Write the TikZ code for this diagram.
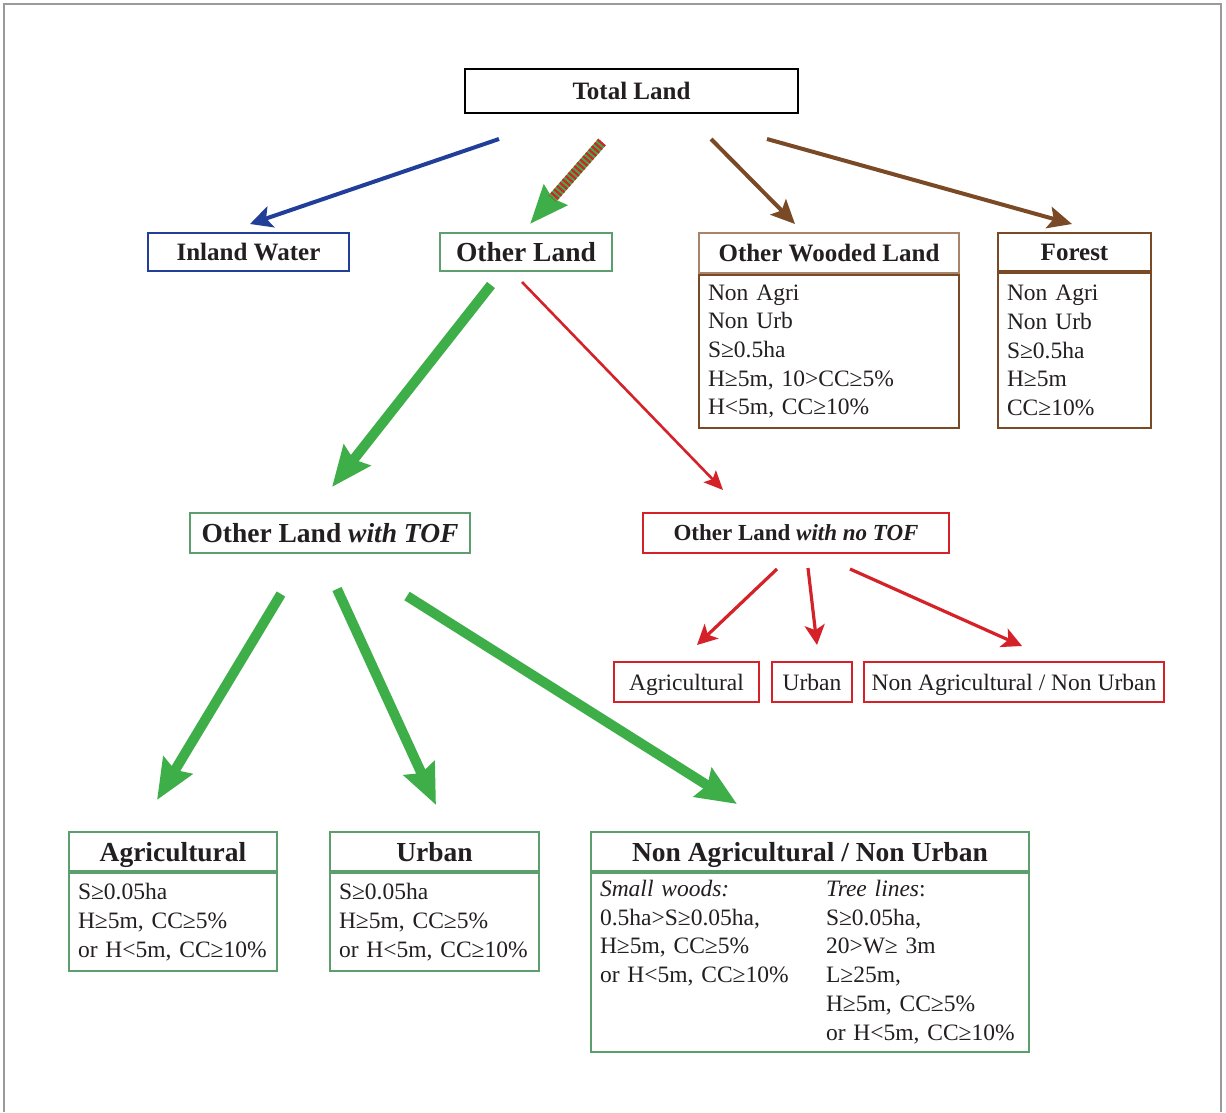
\documentclass[tikz,border=0pt]{standalone}
\usepackage{fontspec}
\setmainfont{Liberation Serif}
\usetikzlibrary{arrows.meta}
\definecolor{tgreen}{HTML}{3EAE49}
\definecolor{bgreen}{HTML}{5C9E6E}
\definecolor{tred}{HTML}{D52229}
\definecolor{tblue}{HTML}{213F99}
\definecolor{tbrown}{HTML}{7A4A27}
\definecolor{lbrown}{HTML}{A8846A}
\definecolor{ink}{HTML}{231F20}
\definecolor{frame}{HTML}{9A9A9A}
\begin{document}
\begin{tikzpicture}[x=1pt,y=-1pt,
  box/.style={draw, line width=2pt, inner sep=0pt, text=ink, align=center, anchor=north west},
  ttl/.style={font=\fontsize{25}{30}\selectfont\bfseries, text height=19pt, text depth=3pt},
  bigttl/.style={font=\fontsize{27.5}{32}\selectfont\bfseries, text height=21.5pt, text depth=2.5pt},
  midttl/.style={font=\fontsize{23}{28}\selectfont\bfseries, text height=18pt, text depth=3pt},
  body/.style={font=\fontsize{23.5}{28.7}\selectfont, align=left, inner xsep=9pt, inner ysep=0pt},
  plain/.style={font=\fontsize{23.5}{28.7}\selectfont, text height=19pt, text depth=2pt},
  bigarrow/.style={tgreen, line width=10pt, -{Stealth[length=40pt,width=33pt,inset=5pt]}},
  thinred/.style={tred, line width=2.6pt, -{Stealth[length=19pt,width=17pt,inset=4pt]}},
  redarrow/.style={tred, line width=3.2pt, -{Stealth[length=20pt,width=20pt,inset=5pt]}},
  bluearrow/.style={tblue, line width=4pt, -{Stealth[length=22pt,width=22pt,inset=5pt]}},
  brownarrow/.style={tbrown, line width=4pt, -{Stealth[length=24pt,width=22pt,inset=5pt]}}
]
\useasboundingbox (0,0) rectangle (1226,1112);
\fill[white] (0,0) rectangle (1226,1112);
\draw[frame, line width=2pt] (4,1112) -- (4,4) -- (1221,4) -- (1221,1112);

% top level
\node[box, ttl, minimum width=333pt, minimum height=44pt] (total) at (464,68) {Total Land};
\node[box, ttl, draw=tblue, minimum width=201pt, minimum height=38pt] (water) at (147,232) {Inland Water};
\node[box, bigttl, draw=bgreen, minimum width=172pt, minimum height=38pt] (other) at (439,232) {Other Land};
\node[box, ttl, draw=lbrown, minimum width=260pt, minimum height=40pt] (owl) at (698,232) {Other Wooded Land};
\node[box, body, draw=tbrown, text width=242pt, minimum height=153pt] (owlb) at (owl.south west)
  {Non Agri\\Non Urb\\S≥0.5ha\\H≥5m, 10>CC≥5\%\\H<5m, CC≥10\%};
\node[box, ttl, draw=tbrown, minimum width=153pt, minimum height=38pt] (forest) at (997,232) {Forest};
\node[box, body, draw=tbrown, text width=135pt, minimum height=155pt] (forestb) at (forest.south west)
  {Non Agri\\Non Urb\\S≥0.5ha\\H≥5m\\CC≥10\%};

% second level
\node[box, bigttl, draw=bgreen, minimum width=280pt, minimum height=40pt] (tof) at (189,512) {Other Land \textit{with TOF}};
\node[box, midttl, draw=tred, minimum width=306pt, minimum height=40pt] (notof) at (642,512) {Other Land \textit{with no TOF}};

% red leaves
\node[box, plain, draw=tred, minimum width=145pt, minimum height=40pt] (ragri) at (613,661) {Agricultural};
\node[box, plain, draw=tred, minimum width=80pt, minimum height=40pt] (rurb) at (771,661) {Urban};
\node[box, plain, draw=tred, minimum width=300pt, minimum height=40pt] (rnon) at (863,661) {Non Agricultural / Non Urban};

% green leaves
\node[box, bigttl, draw=bgreen, minimum width=208pt, minimum height=39pt] (gagri) at (68,831) {Agricultural};
\node[box, body, draw=bgreen, text width=190pt, minimum height=98pt] (gagrib) at (gagri.south west)
  {S≥0.05ha\\H≥5m, CC≥5\%\\or H<5m, CC≥10\%};
\node[box, bigttl, draw=bgreen, minimum width=209pt, minimum height=39pt] (gurb) at (329,831) {Urban};
\node[box, body, draw=bgreen, text width=191pt, minimum height=98pt] (gurbb) at (gurb.south west)
  {S≥0.05ha\\H≥5m, CC≥5\%\\or H<5m, CC≥10\%};
\node[box, bigttl, draw=bgreen, minimum width=438pt, minimum height=39pt] (gnon) at (590,831) {Non Agricultural / Non Urban};
\node[box, body, draw=bgreen, text width=420pt, minimum height=179pt] (gnonb) at (gnon.south west)
  {\begin{tabular}{@{}p{226pt}@{}l@{}}
   \textit{Small woods:} & \textit{Tree lines}:\\
   0.5ha>S≥0.05ha, & S≥0.05ha,\\
   H≥5m, CC≥5\% & 20>W≥ 3m\\
   or H<5m, CC≥10\% & L≥25m,\\
    & H≥5m, CC≥5\%\\
    & or H<5m, CC≥10\%
   \end{tabular}};

% arrow end points
\coordinate (b1) at (499,139); \coordinate (b2) at (250,224);
\coordinate (s1) at (602,142); \coordinate (s2) at (530,224);
\coordinate (w1) at (711,139); \coordinate (w2) at (795,224);
\coordinate (f1) at (767,139); \coordinate (f2) at (1072,224);
\coordinate (g1) at (491,285); \coordinate (g2) at (332,487);
\coordinate (r1) at (522,282); \coordinate (r2) at (723,490);
\coordinate (t1) at (281,594); \coordinate (t2) at (157,800);
\coordinate (u1) at (337,589); \coordinate (u2) at (436,805);
\coordinate (v1) at (407,596); \coordinate (v2) at (737,804);
\coordinate (n1) at (777,569); \coordinate (n2) at (697,645);
\coordinate (m1) at (808,568); \coordinate (m2) at (817,645);
\coordinate (k1) at (850,569); \coordinate (k2) at (1022,646);

\draw[bluearrow] (b1) -- (b2);
\draw[tgreen, line width=10pt, -{Stealth[length=38pt,width=30pt,inset=4pt]}] (s1) -- (s2);
\draw[tred, line width=10pt, dash pattern=on 2.2pt off 2.2pt, shorten >=34pt] (s1) -- (s2);
\draw[brownarrow] (w1) -- (w2);
\draw[brownarrow] (f1) -- (f2);
\draw[bigarrow] (g1) -- (g2);
\draw[thinred] (r1) -- (r2);
\draw[bigarrow] (t1) -- (t2);
\draw[bigarrow] (u1) -- (u2);
\draw[bigarrow] (v1) -- (v2);
\draw[redarrow] (n1) -- (n2);
\draw[redarrow] (m1) -- (m2);
\draw[redarrow] (k1) -- (k2);
\end{tikzpicture}
\end{document}
